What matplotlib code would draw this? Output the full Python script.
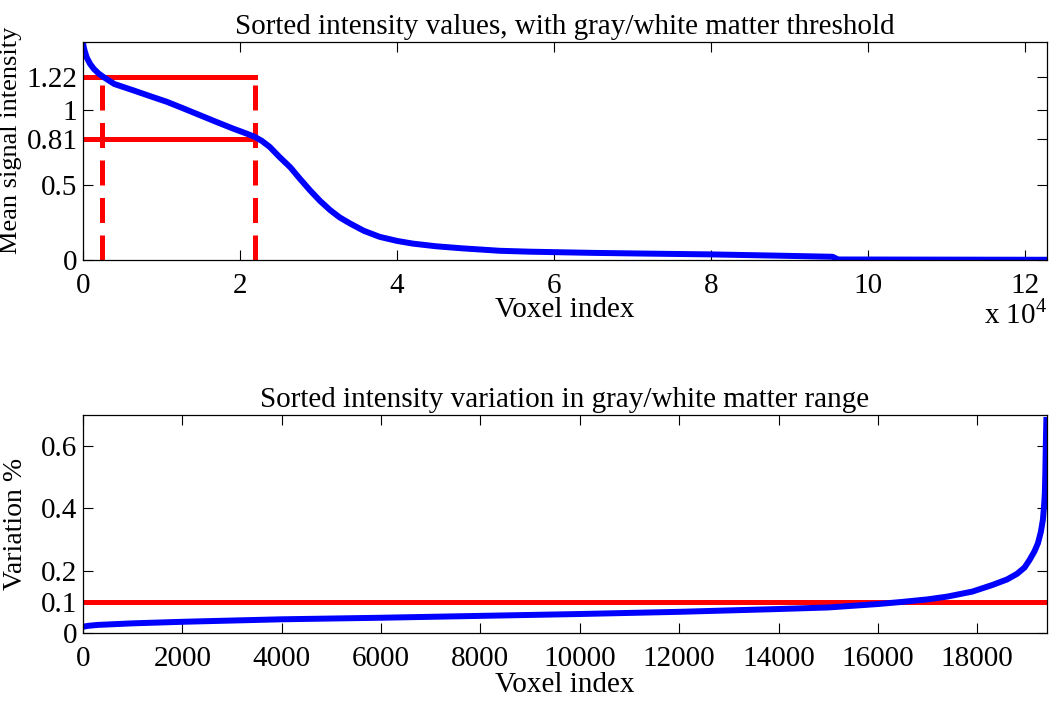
import matplotlib
matplotlib.use('Agg')
from matplotlib import pyplot as plt

# top panel: sorted mean intensity (voxel index, value)
top_x = [0, 100, 250, 500, 900, 1400, 2000, 2600, 4000, 6400, 8500, 10700, 12800,
         14900, 17000, 19100, 20800, 21900, 22800, 23800, 25000, 26400, 27600,
         28900, 30200, 31500, 32700, 34000, 35800, 37800, 40000, 42000, 45000,
         48400, 53100, 56900, 65000, 72000, 79900, 88000, 95500, 96200, 122800]
top_y = [1.455, 1.42, 1.39, 1.35, 1.31, 1.275, 1.245, 1.222, 1.175, 1.133, 1.095,
         1.056, 1.012, 0.967, 0.922, 0.878, 0.845, 0.822, 0.795, 0.755, 0.69, 0.62,
         0.545, 0.467, 0.395, 0.333, 0.285, 0.245, 0.195, 0.155, 0.128, 0.11, 0.092,
         0.078, 0.062, 0.056, 0.048, 0.043, 0.038, 0.03, 0.022, 0.004, 0.002]
thr_low = 0.81
thr_high = 1.22
idx_low = 2400
idx_high = 21900

# bottom panel: sorted variation
bot_x = [0, 100, 300, 1000, 2000, 4000, 6000, 8000, 10000, 12000, 14000, 15000,
         16000, 16500, 17000, 17400, 17900, 18300, 18600, 18800, 18950, 19050,
         19150, 19220, 19280, 19320, 19345, 19360, 19370, 19380, 19390]
bot_y = [0.02, 0.023, 0.026, 0.031, 0.036, 0.044, 0.049, 0.055, 0.061, 0.068, 0.077,
         0.082, 0.093, 0.1, 0.108, 0.117, 0.133, 0.154, 0.172, 0.19, 0.21, 0.234,
         0.262, 0.288, 0.325, 0.363, 0.41, 0.45, 0.52, 0.61, 0.684]
var_thr = 0.1

top_xticks = [0, 20000, 40000, 60000, 80000, 100000, 120000]
top_xlabels = ['0', '2', '4', '6', '8', '10', '12']
top_yticks = [0, 0.5, 0.81, 1, 1.22]
top_ylabels = ['0', '0.5', '0.81', '1', '1.22']
bot_xticks = list(range(0, 18001, 2000))
bot_yticks = [0, 0.1, 0.2, 0.4, 0.6]
bot_ylabels = ['0', '0.1', '0.2', '0.4', '0.6']

plt.rcParams['font.family'] = 'Liberation Serif'
plt.rcParams['mathtext.fontset'] = 'custom'
plt.rcParams['mathtext.rm'] = 'Liberation Serif'

FS = 21


def style(ax):
    ax.tick_params(direction='in', top=True, right=True, length=7, width=0.8,
                   labelsize=FS)
    ax.tick_params(axis='x', pad=9)
    ax.tick_params(axis='y', pad=4)
    for s in ax.spines.values():
        s.set_linewidth(0.9)


def main():
    fig = plt.figure(figsize=(10.5, 7.01), dpi=100)

    ax1 = fig.add_axes([0.079, 0.629, 0.918, 0.311])
    red = '#ff0000'
    ax1.plot([0, idx_high], [thr_high, thr_high], color=red, lw=3.6)
    ax1.plot([0, idx_high], [thr_low, thr_low], color=red, lw=3.6)
    ax1.plot([idx_low, idx_low], [0, thr_high], color=red, lw=3.6, ls=(0, (5, 2.5)))
    ax1.plot([idx_high, idx_high], [0, thr_high], color=red, lw=3.6, ls=(0, (5, 2.5)))
    ax1.plot(top_x, top_y, color='#0000ff', lw=4.3, solid_joinstyle='round')
    ax1.set_xlim(0, 122800)
    ax1.set_ylim(0, 1.455)
    ax1.set_xticks(top_xticks)
    ax1.set_xticklabels(top_xlabels)
    ax1.set_yticks(top_yticks)
    ax1.set_yticklabels(top_ylabels)
    style(ax1)
    ax1.set_xlabel('Voxel index', fontsize=FS, labelpad=-1)
    ax1.set_ylabel('Mean signal intensity', fontsize=19)
    ax1.yaxis.set_label_coords(-0.063, 0.55)
    ax1.set_title('Sorted intensity values, with gray/white matter threshold',
                  fontsize=FS, pad=6)
    ax1.text(1.0, -0.18, r'x 10$^{4}$', transform=ax1.transAxes, ha='right',
             va='top', fontsize=FS)

    ax2 = fig.add_axes([0.079, 0.097, 0.918, 0.311])
    ax2.plot([0, 19400], [var_thr, var_thr], color=red, lw=3.6)
    ax2.plot(bot_x, bot_y, color='#0000ff', lw=4.3, solid_joinstyle='round')
    ax2.set_xlim(0, 19400)
    ax2.set_ylim(0, 0.7)
    ax2.set_xticks(bot_xticks)
    ax2.set_yticks(bot_yticks)
    ax2.set_yticklabels(bot_ylabels)
    style(ax2)
    ax2.set_xlabel('Voxel index', fontsize=FS, labelpad=0)
    ax2.set_ylabel('Variation %', fontsize=20)
    ax2.yaxis.set_label_coords(-0.057, 0.5)
    ax2.set_title('Sorted intensity variation in gray/white matter range',
                  fontsize=FS, pad=6)

    fig.savefig('out.png', dpi=100)


if __name__ == '__main__':
    main()
